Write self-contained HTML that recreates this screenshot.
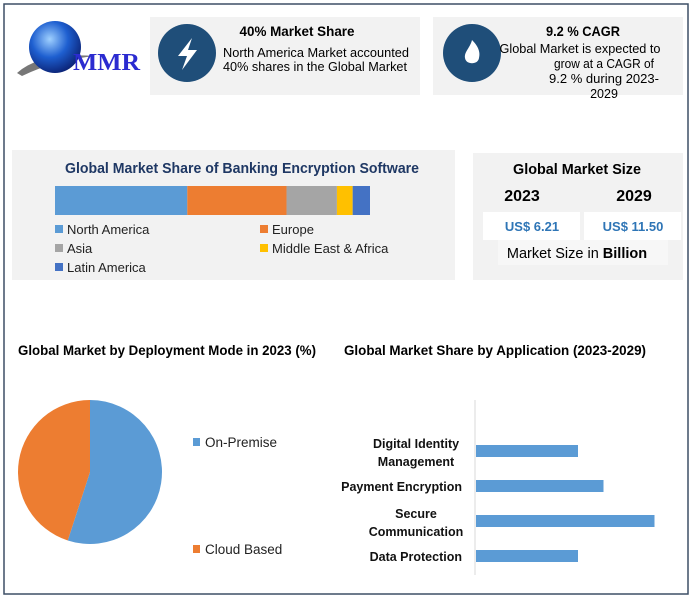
<!DOCTYPE html>
<html><head><meta charset="utf-8"><style>
body{margin:0;background:#fff;}
svg text{font-family:"Liberation Sans",sans-serif;}
svg text.serif{font-family:"Liberation Serif",serif;}
</style></head><body>
<svg width="692" height="598" viewBox="0 0 692 598" xmlns="http://www.w3.org/2000/svg">
<defs>
<radialGradient id="gl" cx="0.4" cy="0.35" r="0.7"><stop offset="0" stop-color="#9fd0ff"/><stop offset="0.5" stop-color="#1e5fd0"/><stop offset="1" stop-color="#0a1f70"/></radialGradient>
</defs>
<rect x="4" y="4" width="684" height="590" fill="#fff" stroke="#3d4f66" stroke-width="1.5"/>
<g>
<path d="M17 73 Q40 52 95 56 Q55 60 22 76 Z" fill="#777"/>
<circle cx="55" cy="47" r="26" fill="url(#gl)"/>
<text class="serif" x="73" y="70" font-weight="bold" font-size="24" fill="#2b2bd0" textLength="67" lengthAdjust="spacingAndGlyphs">MMR</text>
</g>
<g>
<rect x="150" y="17" width="270" height="78" fill="#f2f2f2"/>
<circle cx="187" cy="53" r="29" fill="#1f4e79"/>
<path d="M192 38 L178 56 L187 56 L182 70 L197 50 L188 50 Z" fill="#fff"/>
<text x="297" y="36" text-anchor="middle" font-weight="bold" font-size="14" textLength="115" lengthAdjust="spacingAndGlyphs">40% Market Share</text>
<text x="316" y="57" text-anchor="middle" font-size="13" textLength="186" lengthAdjust="spacingAndGlyphs">North America Market accounted</text>
<text x="315" y="71" text-anchor="middle" font-size="13" textLength="184" lengthAdjust="spacingAndGlyphs">40% shares in the Global Market</text>
</g>
<g>
<rect x="433" y="17" width="250" height="78" fill="#f2f2f2"/>
<circle cx="472" cy="53" r="29" fill="#1f4e79"/>
<path d="M472 40 C480 48 480 54 479 58 C478 65 466 65 465 58 C464 52 470 48 472 40 Z" fill="#fff"/>
<text x="583" y="36" text-anchor="middle" font-weight="bold" font-size="14" textLength="74" lengthAdjust="spacingAndGlyphs">9.2 % CAGR</text>
<text x="580" y="53" text-anchor="middle" font-size="12.5" textLength="161" lengthAdjust="spacingAndGlyphs">Global Market is expected to</text>
<text x="604" y="68" text-anchor="middle" font-size="12.5" textLength="100" lengthAdjust="spacingAndGlyphs">grow at a CAGR of</text>
<text x="604" y="83" text-anchor="middle" font-size="12.5" textLength="110" lengthAdjust="spacingAndGlyphs">9.2 % during 2023-</text>
<text x="604" y="98" text-anchor="middle" font-size="12.5">2029</text>
</g>
<g>
<rect x="12" y="150" width="443" height="130" fill="#f2f2f2"/>
<text x="242" y="173" text-anchor="middle" font-weight="bold" font-size="15" fill="#1f3864" textLength="354" lengthAdjust="spacingAndGlyphs">Global Market Share of Banking Encryption Software</text>
<g id="stack"></g>
<g id="stackLegend"></g>
</g>
<g>
<rect x="473" y="153" width="210" height="127" fill="#f2f2f2"/>
<text x="577" y="174" text-anchor="middle" font-weight="bold" font-size="15" textLength="128" lengthAdjust="spacingAndGlyphs">Global Market Size</text>
<text x="522" y="201" text-anchor="middle" font-weight="bold" font-size="16">2023</text>
<text x="634" y="201" text-anchor="middle" font-weight="bold" font-size="16">2029</text>
<rect x="483" y="212" width="97" height="28" fill="#fff"/>
<rect x="584" y="212" width="97" height="28" fill="#fff"/>
<text x="532" y="231" text-anchor="middle" font-weight="bold" font-size="13" fill="#2e75b6">US$ 6.21</text>
<text x="633" y="231" text-anchor="middle" font-weight="bold" font-size="13" fill="#2e75b6">US$ 11.50</text>
<rect x="498" y="240" width="170" height="25" fill="#f7f7f7"/>
<text x="577" y="258" text-anchor="middle" font-size="14.5">Market Size in <tspan font-weight="bold">Billion</tspan></text>
</g>
<text x="18" y="355" font-weight="bold" font-size="13.5" textLength="298" lengthAdjust="spacingAndGlyphs">Global Market by Deployment Mode in 2023 (%)</text>
<text x="344" y="355" font-weight="bold" font-size="13.5" textLength="302" lengthAdjust="spacingAndGlyphs">Global Market Share by Application (2023-2029)</text>
<g id="pie"></g>
<g id="pieLegend"></g>
<line x1="475" y1="400" x2="475" y2="575" stroke="#d9d9d9"/>
<g id="bars"></g>
</svg>
<script>
const NS="http://www.w3.org/2000/svg";
const regions=["North America","Europe","Asia","Middle East & Africa","Latin America"];
const regionShare=[42,31.5,16,5,5.5];
const regionColors=["#5b9bd5","#ed7d31","#a5a5a5","#ffc000","#4472c4"];
const deployModes=["On-Premise","Cloud Based"];
const deployShare=[55,45];
const deployColors=["#5b9bd5","#ed7d31"];
const apps=["Digital Identity|Management","Payment Encryption","Secure|Communication","Data Protection"];
const appValues=[20,25,35,20];

function mk(tag,attrs,parent){const e=document.createElementNS(NS,tag);for(const k in attrs)e.setAttribute(k,attrs[k]);parent.appendChild(e);return e;}

const sx=v=>v*3.15;
let acc=0;const st=document.getElementById('stack');
regions.forEach((r,i)=>{
 const e=mk('rect',{x:55+sx(acc),y:186,width:sx(regionShare[i]),height:29,fill:regionColors[i]},st);
 
 
 acc+=regionShare[i];
});
const sl=document.getElementById('stackLegend');
regions.forEach((r,i)=>{
 const col=i%2, row=Math.floor(i/2);
 const x=col?260:55, y=229+row*19;
 const g=mk('g',{},sl);
 
 
 mk('rect',{x:x,y:y-4,width:8,height:8,fill:regionColors[i]},g);
 const t=mk('text',{x:x+12,y:y+5,'font-size':13,fill:'#222'},g);t.textContent=r;
});

const cx=90,cy=472,R=72;const pg=document.getElementById('pie');
let a0=0;const tot=deployShare.reduce((a,b)=>a+b,0);
deployShare.forEach((v,i)=>{
 const a1=a0+v/tot*2*Math.PI;
 const p=(a)=>[cx+R*Math.sin(a),cy-R*Math.cos(a)];
 const [x0,y0]=p(a0),[x1,y1]=p(a1);
 const e=mk('path',{d:`M${cx} ${cy} L${x0} ${y0} A${R} ${R} 0 ${(a1-a0)>Math.PI?1:0} 1 ${x1} ${y1} Z`,fill:deployColors[i]},pg);
 
 
 a0=a1;
});
const pl=document.getElementById('pieLegend');
deployModes.forEach((m,i)=>{
 const y=i?549:442;
 const g=mk('g',{},pl);
 
 
 mk('rect',{x:193,y:y-4,width:7,height:8,fill:deployColors[i]},g);
 const t=mk('text',{x:205,y:y+5,'font-size':13.5,fill:'#222'},g);t.textContent=m;
});

const bx=v=>v*5.1;const bg=document.getElementById('bars');
const yc=[451,486,521,556];
apps.forEach((a,i)=>{
 const e=mk('rect',{x:476,y:yc[i]-6,width:bx(appValues[i]),height:12,fill:'#5b9bd5'},bg);
 
 
 const lines=a.split('|');
 lines.forEach((l,j)=>{
  const yy=lines.length>1?yc[i]-3+j*18:yc[i]+5;
  const t=mk('text',{x:lines.length>1?416:462,y:yy,'text-anchor':lines.length>1?'middle':'end','font-weight':'bold','font-size':12.5,fill:'#111'},bg);
  
  
  t.textContent=l;
 });
});
</script>
</body></html>
